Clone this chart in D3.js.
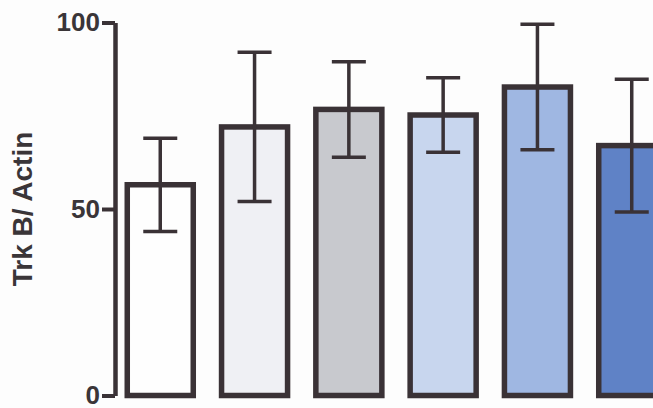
<!DOCTYPE html>
<html>
<head>
<meta charset="utf-8">
<script src="https://cdn.jsdelivr.net/npm/d3@7"></script>
<style>
  html, body { margin: 0; padding: 0; background: #fdfdfd; }
  svg { display: block; }
  text { font-family: "Liberation Sans", Arial, sans-serif; font-weight: bold; fill: #3a3538; }
</style>
</head>
<body>
<script>
// TrkB protein level normalised to actin, mean ± SEM per group
const groups = ["G1", "G2", "G3", "G4", "G5", "G6"];
const means = [56.5, 72, 76.7, 75.2, 82.7, 67];
const sems = [12.5, 20, 12.8, 10, 16.8, 17.8];
const fills = ["#fefefe", "#eff0f4", "#c8c9ce", "#c8d6ee", "#9fb7e2", "#5f82c6"];
const yTicks = [0, 50, 100];
const yLabel = "Trk B/ Actin";

const W = 653, H = 408;
const ink = "#3a3236";

const svg = d3.select("body").append("svg")
  .attr("width", W).attr("height", H);

const y = d3.scaleLinear().domain([0, 100]).range([395.5, 22.5]);
const x = d3.scaleBand().domain(groups)
  .range([115, 677]).paddingInner(0.3).paddingOuter(0.13);

// bars
svg.append("g").selectAll("rect").data(groups).join("rect")
  .attr("x", d => x(d))
  .attr("width", x.bandwidth())
  .attr("y", (d, i) => y(means[i]))
  .attr("height", (d, i) => y(0) - y(means[i]))
  .attr("fill", (d, i) => fills[i])
  .attr("stroke", ink)
  .attr("stroke-width", 5.5);

// error bars
const capHalf = 17;
const eb = svg.append("g").attr("stroke", ink).attr("stroke-width", 3.5).attr("fill", "none");
groups.forEach((g, i) => {
  const cx = x(g) + x.bandwidth() / 2;
  const lo = y(means[i] - sems[i]), hi = y(means[i] + sems[i]);
  eb.append("line").attr("x1", cx).attr("x2", cx).attr("y1", hi).attr("y2", lo);
  eb.append("line").attr("x1", cx - capHalf).attr("x2", cx + capHalf).attr("y1", hi).attr("y2", hi);
  eb.append("line").attr("x1", cx - capHalf).attr("x2", cx + capHalf).attr("y1", lo).attr("y2", lo);
});

// y axis
const axis = svg.append("g")
  .attr("transform", "translate(115,0)")
  .call(d3.axisLeft(y).tickValues(yTicks).tickSize(13).tickPadding(2).tickSizeOuter(0));
axis.select(".domain").attr("stroke", ink).attr("stroke-width", 4.5);
axis.selectAll(".tick line").attr("stroke", ink).attr("stroke-width", 4);
axis.selectAll(".tick text")
  .style("font-size", "26px").style("font-weight", "bold")
  .style("font-family", "'Liberation Sans', Arial, sans-serif")
  .attr("fill", "#3a3538");

// y axis title
svg.append("text")
  .attr("transform", `translate(32,${y(50)}) rotate(-90)`)
  .attr("text-anchor", "middle")
  .style("font-size", "28px")
  .text(yLabel);
</script>
</body>
</html>
